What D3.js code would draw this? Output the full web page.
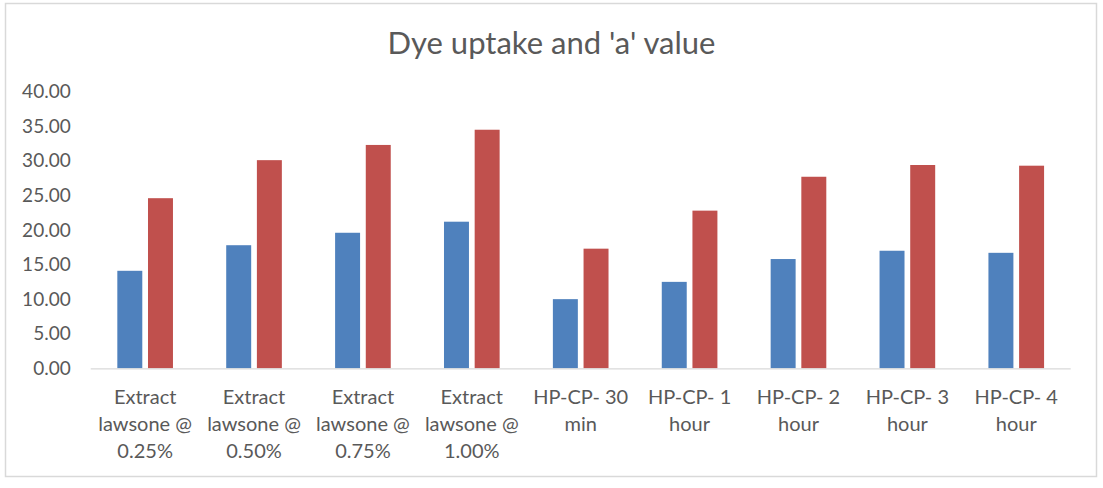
<!DOCTYPE html>
<html>
<head>
<meta charset="utf-8">
<script src="https://cdn.jsdelivr.net/npm/d3@7"></script>
<style>
  body { margin: 0; background: #fff; }
  svg text { font-family: Lato, "Open Sans", sans-serif; fill: #595959; }
</style>
</head>
<body>
<div id="container"></div>
<script>
// chart data
const categories = [
  "Extract lawsone @ 0.25%", "Extract lawsone @ 0.50%", "Extract lawsone @ 0.75%",
  "Extract lawsone @ 1.00%", "HP-CP- 30 min", "HP-CP- 1 hour",
  "HP-CP- 2 hour", "HP-CP- 3 hour", "HP-CP- 4 hour"
];
const tickLines = [
  ["Extract", "lawsone @", "0.25%"], ["Extract", "lawsone @", "0.50%"],
  ["Extract", "lawsone @", "0.75%"], ["Extract", "lawsone @", "1.00%"],
  ["HP-CP- 30", "min"], ["HP-CP- 1", "hour"], ["HP-CP- 2", "hour"],
  ["HP-CP- 3", "hour"], ["HP-CP- 4", "hour"]
];
const seriesNames = ["Dye uptake", "'a' value"];
const dyeUptake = [14.1, 17.8, 19.6, 21.2, 10.0, 12.5, 15.8, 17.0, 16.7];
const aValue = [24.6, 30.1, 32.3, 34.5, 17.3, 22.8, 27.7, 29.4, 29.3];
const yTicks = [0, 5, 10, 15, 20, 25, 30, 35, 40];
const colors = ["#4F81BD", "#C0504D"];

const width = 1103;
const height = 488;
const plotLeft = 90.7, plotRight = 1070.7, plotTop = 91.7, plotBottom = 368.3;

const svg = d3.select("#container")
  .append("svg")
  .attr("width", width)
  .attr("height", height);

// chart border
svg.append("rect")
  .attr("x", 5.5)
  .attr("y", 3.5)
  .attr("width", 1091)
  .attr("height", 473)
  .attr("fill", "#fff")
  .attr("stroke", "#d9d9d9")
  .attr("stroke-width", 1.5);

svg.append("text")
  .attr("x", 551.5)
  .attr("y", 54)
  .attr("text-anchor", "middle")
  .style("font-size", "31px")
  .text("Dye uptake and 'a' value");

const x0 = d3.scaleBand()
  .domain(categories)
  .range([plotLeft, plotRight])
  .paddingInner(0.489)
  .paddingOuter(0.2445);

const x1 = d3.scaleBand()
  .domain(seriesNames)
  .range([0, x0.bandwidth()])
  .paddingInner(0.186);

const yScale = d3.scaleLinear()
  .domain([0, 40])
  .range([plotBottom, plotTop]);

const yAxis = d3.axisLeft(yScale)
  .tickValues(yTicks)
  .tickFormat(d3.format(".2f"))
  .tickSize(0)
  .tickPadding(20);

svg.append("g")
  .attr("id", "y-axis")
  .attr("transform", `translate(${plotLeft}, 0)`)
  .call(yAxis)
  .call(g => g.select(".domain").remove())
  .selectAll("text")
  .style("font-size", "19px")
  .style("font-family", "Lato, sans-serif")
  .attr("fill", "#595959");

const rows = categories.map((c, i) => ({ cat: c, values: [dyeUptake[i], aValue[i]] }));

const groups = svg.selectAll("g.cat")
  .data(rows)
  .enter()
  .append("g")
  .attr("class", "cat")
  .attr("transform", (d) => `translate(${x0(d.cat)}, 0)`);

groups.selectAll("rect")
  .data((d) => d.values.map((v, j) => ({ name: seriesNames[j], value: v, j: j })))
  .enter()
  .append("rect")
  .attr("x", (d) => x1(d.name))
  .attr("y", (d) => yScale(d.value))
  .attr("width", x1.bandwidth())
  .attr("height", (d) => yScale(0) - yScale(d.value))
  .attr("fill", (d) => colors[d.j]);

// category axis line
svg.append("line")
  .attr("x1", plotLeft)
  .attr("x2", plotRight)
  .attr("y1", yScale(0) + 0.5)
  .attr("y2", yScale(0) + 0.5)
  .attr("stroke", "#d9d9d9")
  .attr("stroke-width", 1.2);

const labels = svg.selectAll("text.xlabel")
  .data(categories)
  .enter()
  .append("text")
  .attr("class", "xlabel")
  .attr("text-anchor", "middle")
  .style("font-size", "20px");

labels.selectAll("tspan")
  .data((d, i) => tickLines[i].map((t) => ({ t: t, cat: d })))
  .enter()
  .append("tspan")
  .attr("x", (d) => x0(d.cat) + x0.bandwidth() / 2)
  .attr("y", (d, k) => 404 + k * 27)
  .text((d) => d.t);
</script>
</body>
</html>
